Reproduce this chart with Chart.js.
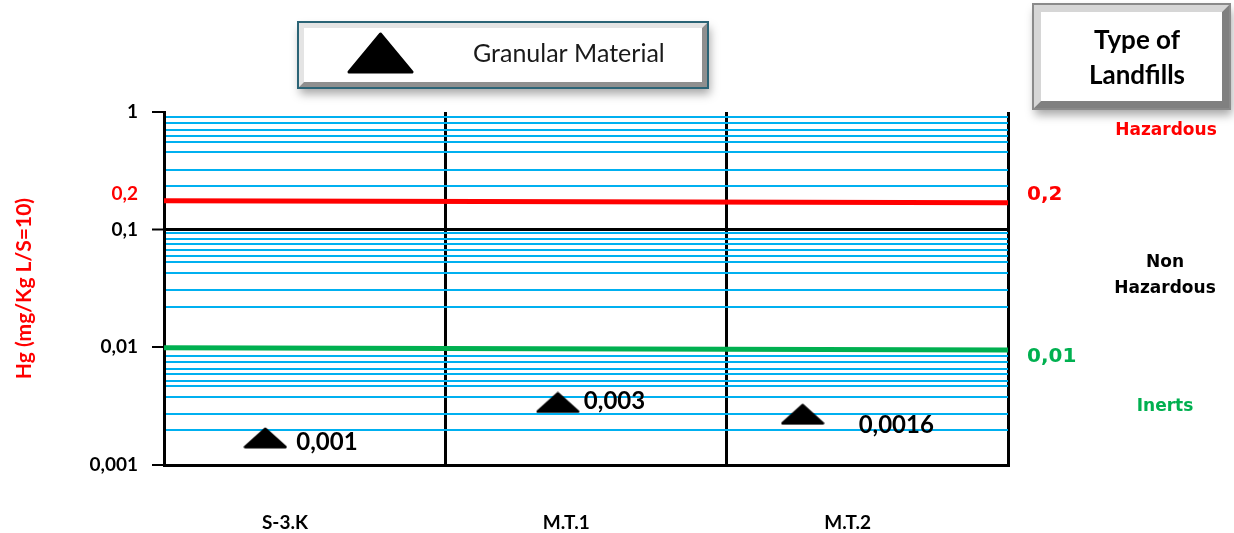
<!DOCTYPE html>
<html>
<head>
<meta charset="utf-8">
<script src="https://cdn.jsdelivr.net/npm/chart.js@4/dist/chart.umd.min.js"></script>
<style>
    html, body { margin: 0; padding: 0; background: #fff; }
    canvas { display: block; }
</style>
</head>
<body>
<canvas id="myChart" width="1234" height="533"></canvas>
<script>
// Hg leaching (L/S=10) - granular material vs landfill limits

const categories = ['S-3.K', 'M.T.1', 'M.T.2']
const sampleX = [0.36, 1.40, 2.27]          // marker place inside each column
const sampleHg = [0.0017, 0.0034, 0.0027]
const sampleLabels = ['0,001', '0,003', '0,0016']

const limitX = [0, 3]
const hazardousLimit = [0.176, 0.169]       // red line, left end / right end
const inertLimit = [0.0099, 0.0095]         // green line

const majorTicks = [0.001, 0.01, 0.1, 0.2, 1]
const majorLabels = ['0,001', '0,01', '0,1', '0,2', '1']
const minorTicks = [
    0.00197, 0.0027, 0.0038, 0.0047, 0.0052, 0.0059, 0.0066, 0.0075, 0.0085,
    0.022, 0.031, 0.043, 0.053, 0.060, 0.067, 0.075, 0.084, 0.094,
    0.236, 0.32, 0.46, 0.56, 0.63, 0.71, 0.80, 0.90
]

const LABEL_AT = 0.43   // category label spot inside a column
const BLUE = '#00b0f0'
const CLEAR = 'rgba(0,0,0,0)'

const makeTriangle = (w, h) => {
    const c = document.createElement('canvas')
    c.width = w
    c.height = h
    const ctx = c.getContext('2d')
    ctx.fillStyle = '#000'
    ctx.strokeStyle = '#000'
    ctx.lineWidth = 3
    ctx.lineJoin = 'round'
    ctx.beginPath()
    ctx.moveTo(2, h - 2)
    ctx.lineTo(w / 2, 2)
    ctx.lineTo(w - 2, h - 2)
    ctx.closePath()
    ctx.fill()
    ctx.stroke()
    return c
}

const marker = makeTriangle(44, 22)
const legendMarker = makeTriangle(67, 42)

const bevelBox = (ctx, x, y, w, h, b, light, dark, edge) => {
    ctx.save()
    ctx.shadowColor = 'rgba(0,0,0,0.35)'
    ctx.shadowBlur = 9
    ctx.shadowOffsetX = 2
    ctx.shadowOffsetY = 6
    ctx.fillStyle = '#fff'
    ctx.fillRect(x, y, w, h)
    ctx.restore()

    ctx.fillStyle = light
    ctx.beginPath()
    ctx.moveTo(x, y); ctx.lineTo(x + w, y); ctx.lineTo(x + w - b, y + b)
    ctx.lineTo(x + b, y + b); ctx.lineTo(x + b, y + h - b); ctx.lineTo(x, y + h)
    ctx.closePath()
    ctx.fill()

    ctx.fillStyle = dark
    ctx.beginPath()
    ctx.moveTo(x + w, y); ctx.lineTo(x + w, y + h); ctx.lineTo(x, y + h)
    ctx.lineTo(x + b, y + h - b); ctx.lineTo(x + w - b, y + h - b); ctx.lineTo(x + w - b, y + b)
    ctx.closePath()
    ctx.fill()

    ctx.strokeStyle = edge
    ctx.lineWidth = 2
    ctx.strokeRect(x, y, w, h)
}

const decorations = {
    id: 'decorations',
    afterDraw(chart) {
        const ctx = chart.ctx
        ctx.save()

        // value labels next to the markers
        const shifts = [[31, 4], [26, -1], [56, 11]]
        const points = chart.getDatasetMeta(2).data
        ctx.font = 'bold 24px Lato'
        ctx.fillStyle = '#000'
        ctx.textAlign = 'left'
        ctx.textBaseline = 'middle'
        points.forEach((p, i) => {
            ctx.fillText(sampleLabels[i], p.x + shifts[i][0], p.y + shifts[i][1])
        })

        // legend box
        bevelBox(ctx, 298, 22, 410, 66, 6, '#e4e4e4', '#8f8f8f', '#2b6476')
        ctx.drawImage(legendMarker, 347, 32)
        ctx.font = '25px Lato'
        ctx.fillStyle = '#1a1a1a'
        ctx.textBaseline = 'middle'
        ctx.fillText(chart.data.datasets[2].label, 473, 54)

        // type of landfills box
        bevelBox(ctx, 1033, 4, 197, 105, 8, '#d6d6d6', '#808080', '#8a8a8a')
        ctx.font = 'bold 26px Lato'
        ctx.fillStyle = '#000'
        ctx.textAlign = 'center'
        ctx.fillText('Type of', 1137, 41)
        ctx.fillText('Landfills', 1137, 76)

        // limit zones on the right
        ctx.font = 'bold 17px "DejaVu Sans"'
        ctx.fillStyle = '#ff0000'
        ctx.fillText('Hazardous', 1166, 131)
        ctx.fillStyle = '#000'
        ctx.fillText('Non', 1165, 263)
        ctx.fillText('Hazardous', 1165, 289)
        ctx.fillStyle = '#00b050'
        ctx.fillText('Inerts', 1165, 407)

        ctx.font = 'bold 20px "DejaVu Sans"'
        ctx.textAlign = 'left'
        ctx.fillStyle = '#ff0000'
        ctx.fillText('0,2', 1027, 195)
        ctx.fillStyle = '#00b050'
        ctx.fillText('0,01', 1027, 357)

        ctx.restore()
    }
}

const config = {
    data: {
        datasets: [
            {
                type: 'line',
                label: 'Hazardous',
                data: limitX.map((x, i) => ({ x, y: hazardousLimit[i] })),
                borderColor: '#ff0000',
                borderWidth: 5,
                pointRadius: 0,
            },
            {
                type: 'line',
                label: 'Inerts',
                data: limitX.map((x, i) => ({ x, y: inertLimit[i] })),
                borderColor: '#00b050',
                borderWidth: 5,
                pointRadius: 0,
            },
            {
                type: 'scatter',
                label: 'Granular Material',
                data: sampleX.map((x, i) => ({ x, y: sampleHg[i] })),
                pointStyle: marker,
                pointRadius: 22,
            },
        ]
    },
    options: {
        responsive: false,
        animation: false,
        layout: { padding: { top: 112, right: 226, left: 0, bottom: 0 } },
        plugins: {
            legend: { display: false },
            tooltip: { enabled: false }
        },
        scales: {
            x: {
                type: 'linear',
                min: 0,
                max: 3,
                z: 1,
                afterBuildTicks: scale => {
                    const vals = [0, 1, 2, 3, ...categories.map((_, i) => i + LABEL_AT)]
                    scale.ticks = vals.sort((a, b) => a - b).map(v => ({ value: v }))
                },
                afterFit: scale => { scale.height = 68 },
                grid: {
                    color: ctx => Number.isInteger(ctx.tick.value) ? '#000' : CLEAR,
                    lineWidth: 3,
                    drawTicks: false
                },
                border: { color: '#000', width: 3 },
                ticks: {
                    autoSkip: false,
                    maxRotation: 0,
                    padding: 46,
                    color: '#000',
                    font: { family: 'Lato', weight: 'bold', size: 19 },
                    callback: v => Number.isInteger(v) ? '' : categories[Math.floor(v)]
                }
            },
            y: {
                type: 'logarithmic',
                min: 0.001,
                max: 1,
                afterBuildTicks: scale => {
                    scale.ticks = [...majorTicks, ...minorTicks].sort((a, b) => a - b).map(v => ({ value: v }))
                },
                afterFit: scale => { scale.width = 164 },
                grid: {
                    color: ctx => {
                        const v = ctx.tick.value
                        if (v === 0.1) return '#000'
                        return majorTicks.includes(v) ? CLEAR : BLUE
                    },
                    lineWidth: ctx => ctx.tick.value === 0.1 ? 3 : 2,
                    tickColor: ctx => {
                        const v = ctx.tick.value
                        return majorTicks.includes(v) && v !== 0.2 ? '#000' : CLEAR
                    },
                    tickLength: 12,
                    tickWidth: 2,
                },
                border: { color: '#000', width: 3 },
                title: {
                    display: true,
                    text: 'Hg (mg/Kg L/S=10)',
                    color: '#ff0000',
                    font: { family: 'Lato', weight: 'bold', size: 21 },
                    padding: { top: 12, bottom: 0 }
                },
                ticks: {
                    autoSkip: false,
                    padding: 14,
                    color: ctx => ctx.tick.value === 0.2 ? '#ff0000' : '#000',
                    font: { family: 'Lato', weight: 'bold', size: 19 },
                    callback: v => {
                        const i = majorTicks.indexOf(v)
                        return i >= 0 ? majorLabels[i] : ''
                    }
                }
            }
        }
    },
    plugins: [decorations]
}

new Chart(document.getElementById('myChart'), config)
</script>
</body>
</html>
